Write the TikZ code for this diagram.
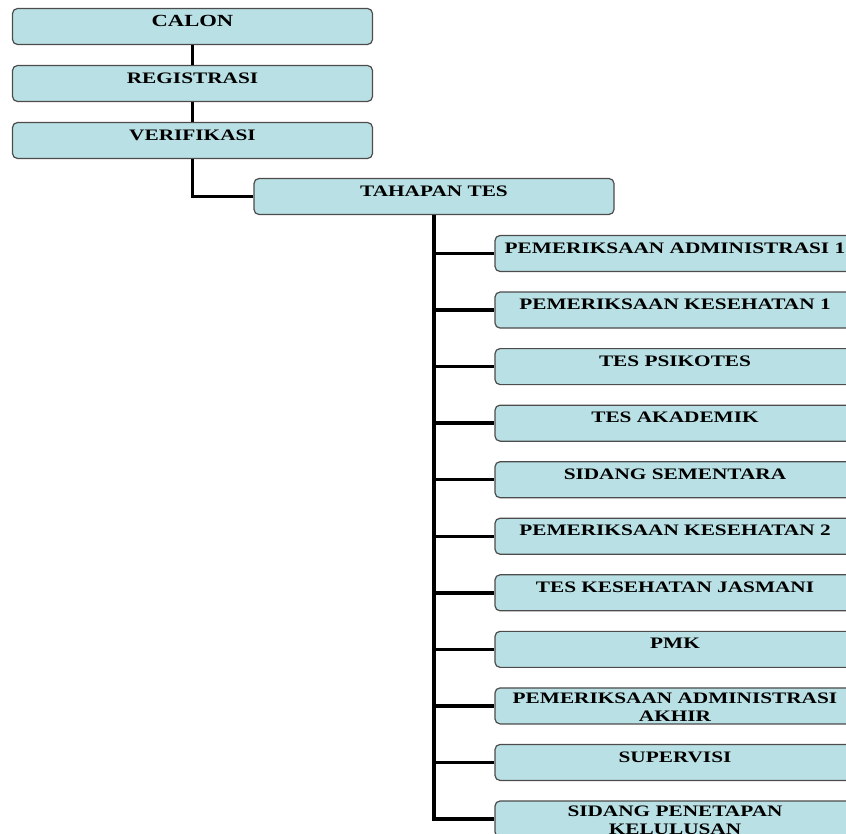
\documentclass[tikz,border=0pt]{standalone}
\usepackage{fontspec}
\setmainfont{Liberation Serif}[FakeStretch=1.33]
\usetikzlibrary{positioning}
\definecolor{boxblue}{RGB}{185,224,228}

\begin{document}
\begin{tikzpicture}[
      x=1pt, y=-1pt,
      node distance=19.8pt,
      box/.style={rectangle, draw=black!70, line width=1.2pt, fill=boxblue, rounded corners=5pt, minimum width=360pt, minimum height=36pt, inner sep=0pt},
      boxtext/.style={anchor=north, inner sep=0pt, yshift=-7.5pt, font=\fontsize{16}{18}\selectfont\bfseries, align=center},
      link/.style={line width=3.5pt, black}
    ]
      \useasboundingbox (0,0) rectangle (846,834);
      \clip (0,0) rectangle (846,834);

      % Nodes
      \node[box, label={[boxtext, font=\fontsize{17}{20}\selectfont\bfseries]north:CALON}] (calon) at (192.5,26.5) {};
      \node[box, below=of calon, label={[boxtext]north:REGISTRASI}] (regis) {};
      \node[box, below=of regis, label={[boxtext]north:VERIFIKASI}] (verif) {};
      \node[box, label={[boxtext]north:TAHAPAN TES}] (tahapan) at (434,196.5) {};

      % Stages of the test
      \begin{scope}[node distance=19.35pt]
      \node[box, label={[boxtext]north:PEMERIKSAAN ADMINISTRASI 1}] (adm1) at (675,253.5) {};
      \node[box, below=of adm1, label={[boxtext]north:PEMERIKSAAN KESEHATAN 1}] (kes1) {};
      \node[box, below=of kes1, label={[boxtext]north:TES PSIKOTES}] (psiko) {};
      \node[box, below=of psiko, label={[boxtext]north:TES AKADEMIK}] (akad) {};
      \node[box, below=of akad, label={[boxtext]north:SIDANG SEMENTARA}] (sidang) {};
      \node[box, below=of sidang, label={[boxtext]north:PEMERIKSAAN KESEHATAN 2}] (kes2) {};
      \node[box, below=of kes2, label={[boxtext]north:TES KESEHATAN JASMANI}] (jasmani) {};
      \node[box, below=of jasmani, label={[boxtext]north:PMK}] (pmk) {};
      \node[box, below=of pmk, label={[boxtext, yshift=2pt]north:PEMERIKSAAN ADMINISTRASI\\AKHIR}] (admakhir) {};
      \node[box, below=of admakhir, label={[boxtext]north:SUPERVISI}] (super) {};
      \node[box, below=of super, label={[boxtext, yshift=2pt]north:SIDANG PENETAPAN\\KELULUSAN}] (lulus) {};
      \end{scope}

      % Connectors
      \draw[link] (calon) -- (regis);
      \draw[link] (regis) -- (verif);
      \draw[link] (verif.south) |- (tahapan.west);
      \foreach \stage in {adm1, kes1, psiko, akad, sidang, kes2, jasmani, pmk, admakhir, super, lulus}
        \draw[link] (tahapan.south) |- (\stage.west);

    \end{tikzpicture}
\end{document}
